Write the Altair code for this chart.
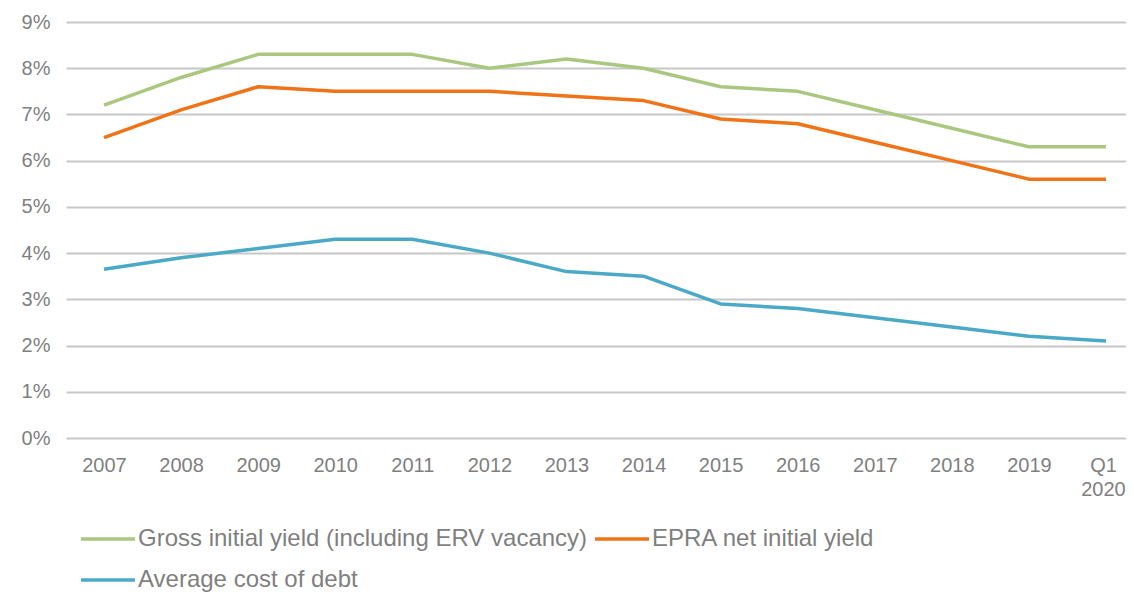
import altair as alt
import pandas as pd

periods = ["2007", "2008", "2009", "2010", "2011", "2012", "2013", "2014",
           "2015", "2016", "2017", "2018", "2019", "Q1 2020"]
gross_yield = [7.2, 7.8, 8.3, 8.3, 8.3, 8.0, 8.2, 8.0, 7.6, 7.5, 7.1, 6.7, 6.3, 6.3]
epra_yield = [6.5, 7.1, 7.6, 7.5, 7.5, 7.5, 7.4, 7.3, 6.9, 6.8, 6.4, 6.0, 5.6, 5.6]
cost_of_debt = [3.65, 3.9, 4.1, 4.3, 4.3, 4.0, 3.6, 3.5, 2.9, 2.8, 2.6, 2.4, 2.2, 2.1]

series_names = ["Gross initial yield (including ERV vacancy)",
                "EPRA net initial yield",
                "Average cost of debt"]
series_colors = ["#a9c77f", "#f07318", "#4ba9c8"]

rows = []
for name, vals in zip(series_names, [gross_yield, epra_yield, cost_of_debt]):
    for i, (p, v) in enumerate(zip(periods, vals)):
        rows.append({"idx": i, "period": p, "series": name, "value": v / 100})
df = pd.DataFrame(rows)

FONT = "Liberation Sans"
GREY = "#7f7f7f"

label_array = "[" + ",".join("'" + p + "'" for p in periods) + "]"
x_label_expr = "split(" + label_array + "[datum.value], ' ')"
last_idx = len(periods) - 1

chart = alt.Chart(df).mark_line(strokeWidth=3.5, strokeJoin="round").encode(
    x=alt.X("idx:Q",
            scale=alt.Scale(domain=[-0.493, 13.2595], nice=False, zero=False),
            axis=alt.Axis(title=None, labelAngle=0, domain=False, ticks=False, grid=False,
                          values=list(range(len(periods))),
                          labelPadding=17, labelFontSize=20, labelColor=GREY,
                          labelFont=FONT, labelLineHeight=24, labelFlush=False,
                          labelOverlap=False, labelExpr=x_label_expr,
                          labelOffset=alt.condition(f"datum.value == {last_idx}",
                                                    alt.value(-3), alt.value(0)))),
    y=alt.Y("value:Q",
            scale=alt.Scale(domain=[0, 0.09], nice=False),
            axis=alt.Axis(title=None, format=".0%", values=[i / 100 for i in range(10)],
                          domain=False, ticks=False, labelPadding=16,
                          labelFontSize=20, labelColor=GREY, labelFont=FONT,
                          gridColor="#c8c8c8", gridWidth=2)),
    color=alt.Color("series:N",
                    scale=alt.Scale(domain=series_names, range=series_colors),
                    legend=alt.Legend(title=None, orient="none", legendX=20, legendY=495,
                                      direction="horizontal", columns=2,
                                      symbolType="M-1.35,0H1.35", symbolSize=1600,
                                      symbolStrokeWidth=3.5, labelOffset=8,
                                      labelFontSize=24, labelColor=GREY, labelFont=FONT,
                                      columnPadding=0, rowPadding=7, padding=0,
                                      labelLimit=0)),
    order="idx:Q",
).properties(
    width=1060, height=416,
    autosize=alt.AutoSizeParams(type="none"),
    padding={"left": 58, "top": 14, "right": 0, "bottom": 154},
).configure_view(stroke=None)

chart.save("out.html", embed_options={"renderer": "svg", "actions": False})
